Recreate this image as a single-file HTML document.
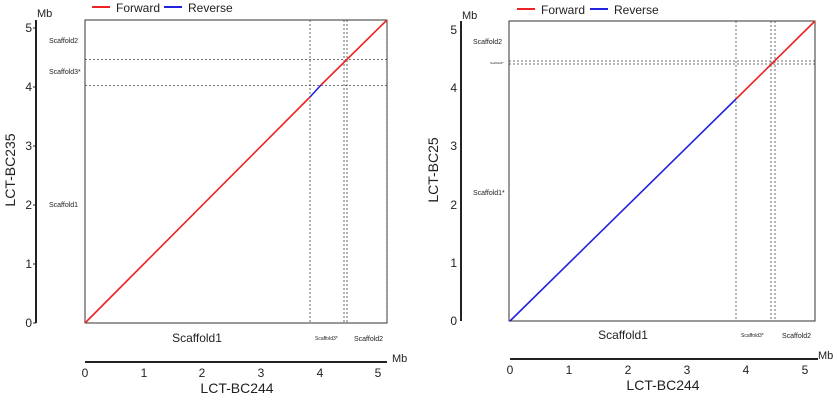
<!DOCTYPE html>
<html><head><style>body{margin:0;background:#fff}svg{display:block}text{font-family:"Liberation Sans",sans-serif;fill:#222}</style></head>
<body>
<svg width="837" height="400" viewBox="0 0 837 400">
<!-- LEFT PANEL -->
<g>
<line x1="92" y1="7" x2="110" y2="7" stroke="#e22" stroke-width="2"/>
<text x="116" y="12" font-size="12">Forward</text>
<line x1="164" y1="7" x2="182" y2="7" stroke="#22d" stroke-width="2"/>
<text x="188" y="12" font-size="12">Reverse</text>
<text x="37" y="17" font-size="11">Mb</text>
<line x1="36" y1="20" x2="36" y2="323" stroke="#222" stroke-width="2"/>
<g font-size="12" text-anchor="end">
<text x="32" y="327">0</text><text x="32" y="268">1</text><text x="32" y="209">2</text><text x="32" y="150">3</text><text x="32" y="91">4</text><text x="32" y="32">5</text>
</g>
<g stroke="#222"><line x1="33" y1="323" x2="36" y2="323"/><line x1="33" y1="264" x2="36" y2="264"/><line x1="33" y1="205" x2="36" y2="205"/><line x1="33" y1="146" x2="36" y2="146"/><line x1="33" y1="87" x2="36" y2="87"/><line x1="33" y1="28" x2="36" y2="28"/></g>
<text transform="translate(15,170) rotate(-90)" font-size="14" text-anchor="middle">LCT-BC235</text>
<g font-size="7"><text x="49" y="43">Scaffold2</text><text x="49" y="74">Scaffold3*</text><text x="49" y="207">Scaffold1</text></g>
<rect x="85" y="20" width="302" height="303" fill="none" stroke="#333" stroke-width="1"/>
<g stroke="#444" stroke-dasharray="2,2" stroke-width="0.8">
<line x1="310" y1="20" x2="310" y2="323"/><line x1="344" y1="20" x2="344" y2="323"/><line x1="347" y1="20" x2="347" y2="323"/><line x1="387" y1="20" x2="387" y2="323"/>
<line x1="85" y1="59.5" x2="387" y2="59.5"/><line x1="85" y1="85.5" x2="387" y2="85.5"/>
</g>
<line x1="85" y1="323" x2="310" y2="97" stroke="#e22" stroke-width="1.6"/>
<line x1="310" y1="97" x2="321" y2="85" stroke="#22d" stroke-width="1.6"/>
<line x1="321" y1="85" x2="387" y2="20" stroke="#e22" stroke-width="1.6"/>
<text x="197" y="342" font-size="12" text-anchor="middle">Scaffold1</text>
<text x="315" y="340" font-size="5">Scaffold3*</text>
<text x="354" y="341" font-size="7">Scaffold2</text>
<line x1="85" y1="362" x2="387" y2="362" stroke="#222" stroke-width="2"/>
<text x="392" y="362" font-size="11">Mb</text>
<g font-size="12" text-anchor="middle">
<text x="85" y="377">0</text><text x="144" y="377">1</text><text x="202" y="377">2</text><text x="261" y="377">3</text><text x="320" y="377">4</text><text x="378" y="377">5</text>
</g>
<text x="237" y="393" font-size="14" text-anchor="middle">LCT-BC244</text>
</g>
<!-- RIGHT PANEL -->
<g>
<line x1="517" y1="9" x2="535" y2="9" stroke="#e22" stroke-width="2"/>
<text x="541" y="14" font-size="12">Forward</text>
<line x1="590" y1="9" x2="608" y2="9" stroke="#22d" stroke-width="2"/>
<text x="614" y="14" font-size="12">Reverse</text>
<text x="462" y="19" font-size="11">Mb</text>
<line x1="461" y1="21" x2="461" y2="321" stroke="#222" stroke-width="2"/>
<g font-size="12" text-anchor="end">
<text x="457" y="325">0</text><text x="457" y="267">1</text><text x="457" y="209">2</text><text x="457" y="150">3</text><text x="457" y="92">4</text><text x="457" y="34">5</text>
</g>
<text transform="translate(438,170) rotate(-90)" font-size="14" text-anchor="middle">LCT-BC25</text>
<g font-size="7"><text x="473" y="44">Scaffold2</text><text x="490" y="64" font-size="3">Scaffold3*</text><text x="473" y="195">Scaffold1*</text></g>
<rect x="509" y="21" width="306" height="300" fill="none" stroke="#333" stroke-width="1"/>
<g stroke="#444" stroke-dasharray="2,2" stroke-width="0.8">
<line x1="736" y1="21" x2="736" y2="321"/><line x1="771" y1="21" x2="771" y2="321"/><line x1="775" y1="21" x2="775" y2="321"/>
<line x1="509" y1="61" x2="815" y2="61"/><line x1="509" y1="64" x2="815" y2="64"/>
</g>
<line x1="510" y1="321" x2="736" y2="99" stroke="#22d" stroke-width="1.6"/>
<line x1="736" y1="99" x2="815" y2="21" stroke="#e22" stroke-width="1.6"/>
<text x="623" y="339" font-size="12" text-anchor="middle">Scaffold1</text>
<text x="741" y="337" font-size="5">Scaffold3*</text>
<text x="782" y="338" font-size="7">Scaffold2</text>
<line x1="510" y1="359" x2="818" y2="359" stroke="#222" stroke-width="2"/>
<text x="818" y="359" font-size="11">Mb</text>
<g font-size="12" text-anchor="middle">
<text x="510" y="374">0</text><text x="569" y="374">1</text><text x="628" y="374">2</text><text x="687" y="374">3</text><text x="746" y="374">4</text><text x="805" y="374">5</text>
</g>
<text x="663" y="390" font-size="14" text-anchor="middle">LCT-BC244</text>
</g>
</svg>
</body></html>
